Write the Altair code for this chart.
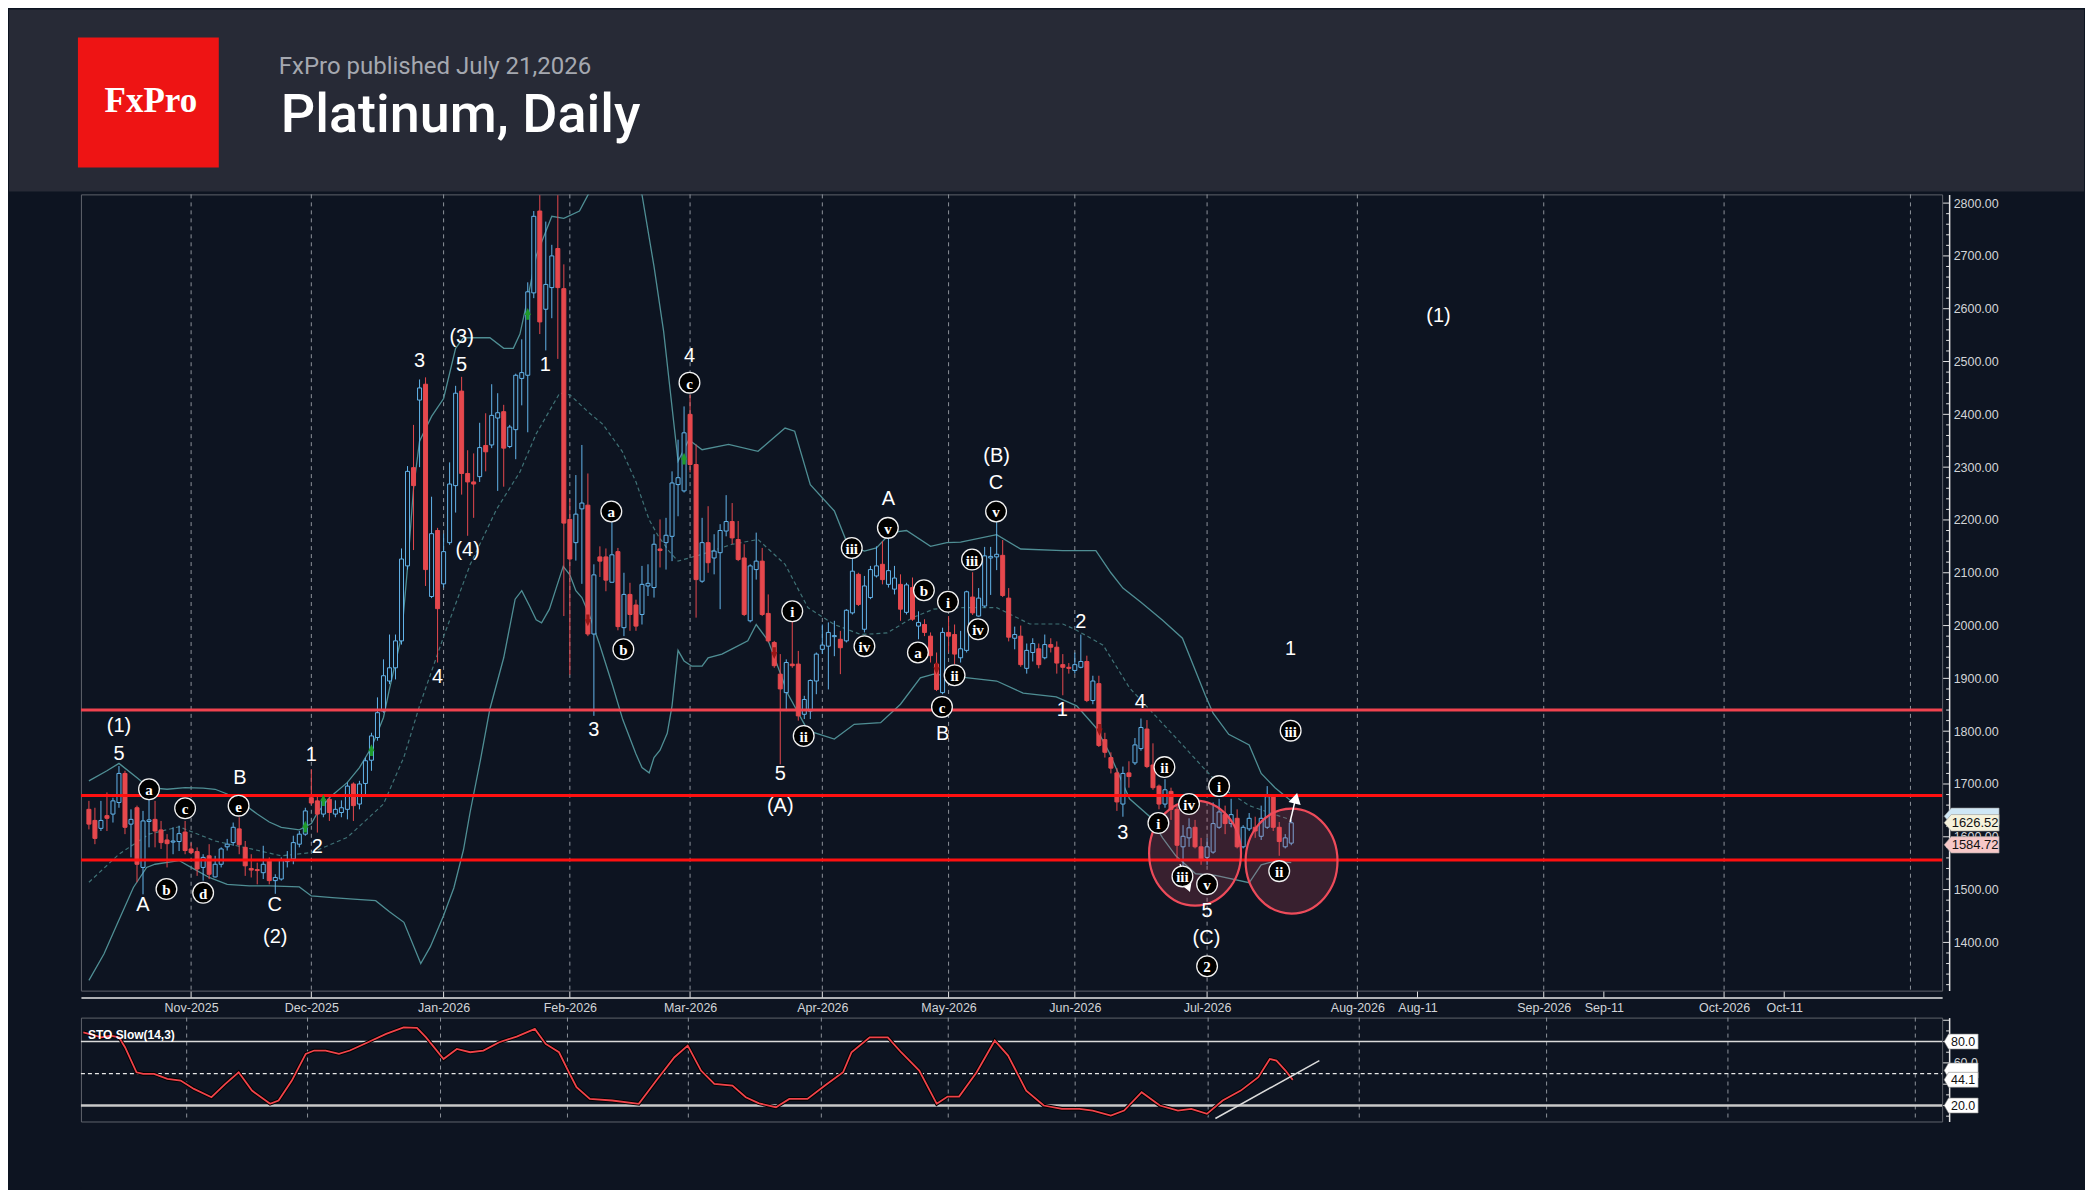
import altair as alt
import pandas as pd

BG = "#0d1421"
HEADER = "#272a36"
BLUE = "#62b4ea"
RED = "#e6484d"
BAND = "#4f8e94"
MID = "#3f7276"
AXC = "#e4e4e4"
LABC = "#d2d4d8"

W, H = 1863, 797      # price panel
SH = 104              # stochastic panel

# daily candles, k = trading-day index (k=0 -> 9 Oct 2025, k=200 -> 21 Jul 2026)
opens = [
    1652, 1631, 1616, 1640, 1643, 1665, 1720, 1624, 1655, 1542,
    1629, 1633, 1613, 1594, 1590, 1591, 1609, 1577, 1572, 1542,
    1564, 1524, 1548, 1581, 1589, 1615, 1580, 1540, 1538, 1532,
    1556, 1517, 1520, 1553, 1558, 1586, 1605, 1674, 1668, 1643,
    1671, 1643, 1646, 1652, 1700, 1662, 1701, 1745, 1788, 1838,
    1895, 1920, 1971, 2113, 2299, 2427, 2457, 2055, 2180, 2079,
    2157, 2265, 2444, 2288, 2272, 2282, 2341, 2342, 2393, 2405,
    2339, 2371, 2468, 2474, 2630, 2785, 2599, 2640, 2714, 2638,
    2201, 2157, 2221, 2228, 1984, 2130, 2130, 2082, 2140, 1996,
    2059, 2039, 2021, 2075, 2072, 2145, 2157, 2169, 2267, 2255,
    2400, 2305, 2084, 2157, 2128, 2138, 2179, 2197, 2163, 2128,
    2009, 2106, 2122, 2023, 1968, 1908, 1873, 1927, 1927, 1832,
    1838, 1895, 1955, 1961, 1979, 1974, 1971, 2024, 2097, 1993,
    2053, 2094, 2116, 2078, 2069, 2078, 2025, 2072, 1999, 2002,
    1980, 1927, 1873, 1987, 1983, 1939, 1953, 2054, 2018, 2037,
    2128, 2130, 2133, 2052, 1976, 1980, 1919, 1949, 1956, 1939,
    1964, 1959, 1926, 1921, 1915, 1921, 1932, 1858, 1890, 1784,
    1750, 1721, 1662, 1721, 1740, 1767, 1804, 1736, 1696, 1662,
    1686, 1652, 1581, 1598, 1618, 1581, 1561, 1571, 1618, 1642,
    1625, 1635, 1581, 1615, 1618, 1601, 1618, 1676, 1618, 1581,
    1588,
]
highs = [
    1668, 1655, 1668, 1684, 1674, 1734, 1725, 1652, 1659, 1649,
    1684, 1668, 1630, 1605, 1618, 1621, 1630, 1589, 1580, 1567,
    1586, 1564, 1580, 1596, 1627, 1637, 1592, 1567, 1551, 1583,
    1561, 1529, 1561, 1573, 1602, 1611, 1655, 1728, 1678, 1674,
    1674, 1669, 1669, 1703, 1703, 1706, 1750, 1797, 1864, 1936,
    1983, 1983, 2146, 2302, 2380, 2466, 2470, 2244, 2185, 2174,
    2309, 2454, 2471, 2332, 2326, 2384, 2402, 2457, 2440, 2418,
    2380, 2477, 2542, 2650, 2785, 2815, 2765, 2721, 2815, 2684,
    2240, 2285, 2342, 2288, 2116, 2150, 2146, 2214, 2147, 2100,
    2081, 2049, 2113, 2116, 2173, 2201, 2204, 2292, 2352, 2415,
    2437, 2343, 2204, 2226, 2173, 2192, 2247, 2232, 2198, 2154,
    2116, 2176, 2147, 2059, 1971, 1946, 1936, 2012, 1952, 1867,
    1898, 1949, 2002, 2006, 2009, 1990, 2031, 2128, 2100, 2094,
    2113, 2150, 2160, 2179, 2113, 2097, 2081, 2091, 2027, 2012,
    1987, 1949, 1996, 2018, 2002, 1990, 2066, 2101, 2071, 2149,
    2149, 2196, 2162, 2071, 1998, 2000, 1966, 1976, 1966, 1983,
    1976, 1970, 1946, 1929, 1949, 1983, 1943, 1905, 1905, 1797,
    1760, 1730, 1733, 1743, 1787, 1824, 1821, 1777, 1699, 1709,
    1693, 1659, 1622, 1635, 1632, 1598, 1598, 1665, 1672, 1659,
    1672, 1652, 1622, 1645, 1638, 1659, 1696, 1679, 1628, 1605,
    1632,
]
lows = [
    1614, 1586, 1611, 1611, 1627, 1655, 1605, 1561, 1514, 1491,
    1580, 1580, 1577, 1542, 1567, 1573, 1567, 1567, 1526, 1517,
    1520, 1523, 1542, 1574, 1583, 1567, 1526, 1523, 1510, 1520,
    1510, 1492, 1517, 1542, 1548, 1580, 1602, 1660, 1608, 1637,
    1630, 1637, 1637, 1633, 1630, 1652, 1681, 1725, 1782, 1835,
    1889, 1898, 1964, 2106, 2143, 2300, 2075, 2052, 1930, 2072,
    2153, 2214, 2248, 2170, 2204, 2272, 2292, 2336, 2255, 2263,
    2336, 2315, 2417, 2366, 2620, 2552, 2521, 2582, 2505, 2018,
    1907, 2123, 2079, 1980, 1829, 2092, 2065, 2082, 1991, 1980,
    1990, 1990, 2002, 2056, 2053, 2110, 2106, 2122, 2207, 2252,
    2290, 2015, 2081, 2100, 2097, 2031, 2169, 2154, 2122, 2018,
    2006, 2087, 2018, 1968, 1920, 1737, 1838, 1920, 1820, 1823,
    1823, 1870, 1946, 1879, 1942, 1908, 1968, 2021, 2037, 1987,
    2050, 2091, 2078, 2072, 2059, 2009, 2021, 2009, 1974, 1980,
    1930, 1876, 1870, 1949, 1927, 1930, 1949, 2020, 2017, 2034,
    2058, 2105, 2054, 1970, 1955, 1922, 1909, 1932, 1919, 1936,
    1949, 1909, 1868, 1909, 1909, 1919, 1855, 1851, 1770, 1750,
    1720, 1649, 1638, 1693, 1736, 1763, 1730, 1689, 1652, 1655,
    1632, 1557, 1537, 1581, 1578, 1547, 1547, 1568, 1615, 1605,
    1618, 1578, 1578, 1611, 1598, 1594, 1615, 1611, 1564, 1578,
    1584,
]
closes = [
    1624, 1597, 1631, 1635, 1668, 1720, 1618, 1633, 1548, 1630,
    1632, 1611, 1589, 1587, 1592, 1606, 1574, 1570, 1539, 1561,
    1529, 1548, 1577, 1586, 1618, 1585, 1545, 1537, 1536, 1548,
    1517, 1523, 1555, 1556, 1589, 1605, 1649, 1664, 1643, 1671,
    1646, 1652, 1655, 1696, 1659, 1700, 1744, 1791, 1835, 1905,
    1920, 1971, 2126, 2292, 2265, 2450, 2106, 2174, 2032, 2140,
    2268, 2440, 2288, 2272, 2268, 2337, 2329, 2398, 2403, 2336,
    2376, 2474, 2479, 2632, 2775, 2575, 2646, 2700, 2640, 2194,
    2126, 2211, 2232, 1984, 2096, 2122, 2086, 2134, 1998, 2059,
    2021, 1999, 2078, 2080, 2154, 2142, 2171, 2270, 2280, 2365,
    2305, 2087, 2157, 2119, 2141, 2180, 2197, 2166, 2125, 2021,
    2113, 2122, 2021, 1971, 1924, 1880, 1930, 1924, 1829, 1860,
    1896, 1946, 1963, 1987, 1981, 1958, 2029, 2103, 2040, 2075,
    2106, 2113, 2087, 2104, 2090, 2031, 2077, 2012, 2006, 1987,
    1943, 1879, 1987, 1980, 1946, 1956, 2064, 2024, 2052, 2132,
    2131, 2135, 2057, 1978, 1983, 1926, 1953, 1966, 1926, 1964,
    1959, 1929, 1921, 1919, 1926, 1932, 1858, 1895, 1773, 1760,
    1730, 1666, 1720, 1714, 1774, 1807, 1733, 1693, 1662, 1689,
    1652, 1584, 1601, 1617, 1581, 1557, 1581, 1625, 1647, 1625,
    1642, 1581, 1618, 1635, 1611, 1635, 1676, 1618, 1591, 1598,
    1626.52,
]

# Bollinger bands
upper_k = [0, 3, 5, 8, 10, 13, 16, 19, 21, 23, 26, 28, 30, 32, 35, 37, 38, 40, 43, 45,
           47, 49, 50, 51, 52, 53, 54, 55, 57, 59, 61, 62.3, 64.5, 66.7, 69, 70.6, 71.7, 73, 74.4, 77,
           79, 81.6, 83, 86, 89, 92, 94, 95.6, 98, 99.8, 102, 106.4, 111.3, 115.8, 117.4, 120, 124, 126.2, 129, 131,
           133.4, 136, 140, 142.7, 145, 151, 155, 162, 167.5, 170, 172, 175, 178.6, 181.9, 185.7, 187, 189.6, 193, 195, 197.3,
           200]
upper_v = [1706, 1725, 1739, 1712, 1693, 1690, 1693, 1692, 1690, 1681, 1660, 1643, 1628, 1618, 1613, 1625, 1645, 1674, 1703, 1731,
           1769, 1826, 1880, 1930, 1980, 2110, 2260, 2349, 2396, 2430, 2525, 2545, 2545, 2545, 2525, 2525, 2552, 2620, 2700, 2775,
           2771, 2785, 2815, 2870, 2880, 2816, 2680, 2557, 2311, 2352, 2333, 2343, 2330, 2374, 2368, 2267, 2217, 2154, 2141, 2147,
           2176, 2180, 2150, 2157, 2158, 2172, 2145, 2142, 2142, 2100, 2071, 2044, 2010, 1976, 1868, 1834, 1794, 1774, 1720, 1693,
           1668]
lower_k = [0, 2.5, 4.7, 7.4, 9.6, 11, 15, 17, 20, 23, 26.7, 30, 35, 37, 40.5, 44, 47.7, 50, 52.4, 55.2,
           56.8, 59, 60.7, 62.3, 63.4, 65.1, 66.7, 69, 70.9, 72, 73.3, 74.4, 75.3, 76.6, 77.7, 78.9, 80, 81, 82, 83.3,
           84.9, 87.1, 88.8, 91, 92, 93.2, 94, 95, 96.2, 97, 98, 99, 100.3, 102, 103, 105.3, 107, 109.6, 111, 113,
           116.3, 119.6, 124, 127.3, 131.7, 135, 138.3, 140.5, 145.5, 151, 155.4, 160.9, 164.3, 167.5, 169.7, 173.1, 176.4, 178.6, 180.8, 184.1,
           187.4, 193, 195, 197.3, 200]
lower_v = [1328, 1378, 1435, 1504, 1542, 1548, 1555, 1542, 1523, 1510, 1507, 1507, 1505, 1488, 1485, 1482, 1479, 1458, 1438, 1360,
           1392, 1451, 1503, 1575, 1646, 1744, 1842, 1939, 2050, 2066, 2037, 2011, 2005, 2031, 2070, 2112, 2096, 2066, 2053, 2018,
           1966, 1887, 1822, 1757, 1731, 1721, 1750, 1764, 1796, 1848, 1953, 1933, 1923, 1923, 1939, 1946, 1956, 1971, 2002, 1971,
           1870, 1801, 1785, 1813, 1816, 1851, 1901, 1908, 1902, 1895, 1872, 1865, 1848, 1807, 1760, 1672, 1639, 1598, 1564, 1530,
           1527, 1513, 1547, 1554, 1551]
mid_k = [0, 5, 10, 15, 21, 27, 32, 37, 43, 49, 52.4, 55, 59, 63.4, 67.8, 71.7, 74.4, 78.3, 80, 83.2,
         85.5, 88.7, 91, 93.2, 94.8, 96.5, 98, 102, 107, 111.3, 115.8, 119.6, 124, 128.4, 132.8, 137, 140.5, 145, 151, 156.5,
         162, 164, 168.7, 173.1, 177.5, 181.9, 185.2, 188.5, 193, 197.3, 200]
mid_v = [1514, 1567, 1605, 1619, 1592, 1577, 1564, 1570, 1599, 1662, 1751, 1848, 1979, 2115, 2220, 2291, 2363, 2440, 2437, 2403,
         2381, 2330, 2272, 2200, 2168, 2141, 2122, 2135, 2154, 2163, 2116, 2034, 2002, 1983, 1986, 2015, 2031, 2034, 2034, 2003,
         2003, 1993, 1963, 1882, 1828, 1774, 1733, 1693, 1659, 1642, 1632]

# STO Slow(14,3)
sto_k = [-0.1, 2.9, 4.4, 5.8, 6.8, 8.7, 9.8, 11.6, 13.8, 16, 18.2, 21.1, 23.4, 25.6, 27.8, 30.8, 32.2, 34.4, 36.7, 38.1,
         40, 42.2, 44, 47, 50, 52.9, 55.1, 56.6, 59.5, 61.7, 63.9, 66.1, 68.7, 71.6, 74.6, 76.4, 78.6, 80.1, 81.5, 83.7,
         87.4, 91.8, 94.7, 97.7, 99.9, 102.1, 104.3, 107.3, 109.5, 111.7, 114.5, 116.7, 119.7, 122.6, 125.6, 127, 130, 133, 135.2, 138.2,
         141.1, 142.9, 144.8, 147.7, 150.7, 152.9, 155.9, 158.8, 161.8, 164.7, 166.9, 169.9, 172.1, 175, 178, 181, 183.2, 185.8, 188.4, 191.4,
         194.3, 196.2, 197.3, 198.8, 200]
sto_v = [88.7, 84, 85.6, 84, 74.7, 51.2, 49.7, 49.7, 45, 43.4, 35.6, 27.8, 40.3, 51.2, 34, 21.6, 24.7, 43.4, 68.4, 71.6,
         71.6, 68.4, 71.6, 79.4, 87.2, 93.4, 92.8, 84, 63.7, 73.1, 70, 71.6, 79.4, 84.7, 91.9, 77.8, 70, 52.8, 37.2, 26.2,
         24.7, 21.6, 43.4, 65.3, 76.2, 52.8, 40.3, 38.7, 27.8, 22, 18.4, 26.2, 26.2, 38.7, 51.2, 70, 84, 84, 70, 52.8,
         21.6, 28.4, 28.4, 51.2, 80.9, 66.9, 34, 20, 16.9, 16.9, 15.3, 10.6, 15.3, 32.5, 20, 15.3, 16.9, 12.2, 24.7, 34,
         46.6, 63.7, 62.2, 52.8, 44.1]
trend_k = [187.2, 204.4]
trend_v = [7.8, 62.2]

# axis ticks / labels
x_tick_k = [17, 37, 59, 80, 100, 122, 143, 164, 186, 211, 221, 242, 252, 272, 282]
x_tick_lab = ["Nov-2025", "Dec-2025", "Jan-2026", "Feb-2026", "Mar-2026", "Apr-2026", "May-2026",
              "Jun-2026", "Jul-2026", "Aug-2026", "Aug-11", "Sep-2026", "Sep-11", "Oct-2026", "Oct-11"]
grid_k = [17, 37, 59, 80, 100, 122, 143, 164, 186, 211, 242, 272, 303]
y_major = list(range(1400, 2801, 100))
y_minor = [v for v in range(1320, 2801, 20) if v % 100]

# horizontal levels
level_hi = [1840]
level_lo = [1678, 1556]

# wave labels
plain_t = ["(1)", "5", "A", "B", "C", "(2)", "1", "2", "3", "4", "(3)", "5", "(4)", "1", "3", "4", "5", "(A)",
           "A", "B", "(B)", "C", "1", "2", "3", "4", "5", "(C)", "1", "(1)"]
plain_k = [5.0, 5.0, 9.0, 25.1, 30.9, 31.0, 37.0, 38.0, 55.0, 58.0, 62.0, 62.0, 63.0, 75.9, 84.0, 99.9, 115.0, 115.0,
           133.0, 142.0, 151.0, 150.9, 161.9, 165.0, 172.0, 174.9, 186.0, 185.9, 199.9, 224.5]
plain_p = [1810, 1756, 1470, 1712, 1470, 1410, 1755, 1581, 2501, 1903, 2546, 2493, 2143, 2493, 1802, 2510, 1719, 1659,
           2239, 1794, 2321, 2270, 1841, 2007, 1608, 1855, 1459, 1409, 1956, 2586]
circ_t = ["a", "b", "c", "d", "e", "a", "b", "c", "i", "ii", "iii", "iv", "v", "a", "b", "c", "i", "ii", "iii", "iv",
          "v", "i", "ii", "iii", "iv", "v", "2", "i", "ii", "iii"]
circ_k = [10.0, 12.9, 16.0, 19.0, 24.9, 86.9, 88.9, 99.9, 117.0, 118.9, 126.9, 129.0, 132.9, 137.9, 138.9, 141.9, 142.9, 144.0, 146.9, 147.9,
          150.9, 177.9, 178.9, 181.9, 183.0, 186.0, 186.0, 188.0, 198.0, 199.9]
circ_p = [1690, 1501, 1654, 1494, 1659, 2216, 1955, 2460, 2027, 1791, 2147, 1961, 2185, 1949, 2067, 1846, 2045, 1906, 2125, 1993,
          2216, 1626, 1732, 1525, 1662, 1510, 1355, 1696, 1535, 1801]

up_arrow_k = [36.0, 39.0, 47.0, 73.0, 99.0]
up_arrow_p = [1618, 1668, 1763, 2589, 2315]
dn_arrow_k = [83.0, 114.0, 141.0, 168.1]
dn_arrow_p = [2011, 1949, 1920, 1804]

zone_k = [184.0, 200.05]
zone_p = [1569, 1554]

one = pd.DataFrame({"z": [0]})
candles = pd.DataFrame({"k": range(len(opens)), "open": opens, "high": highs, "low": lows, "close": closes})
candles["dir"] = ["up" if c >= o else "down" for o, c in zip(opens, closes)]

xs = alt.Scale(domain=[-0.496, 307.44], nice=False, zero=False)
ys = alt.Scale(domain=[1308.7, 2816.5], nice=False, zero=False)
ss = alt.Scale(domain=[5.0, 102.5], nice=False, zero=False)

x_expr = " : ".join(f"datum.value == {k} ? '{t}'" for k, t in zip(x_tick_k, x_tick_lab)) + " : ''"
x_axis = alt.Axis(values=x_tick_k, labelExpr=x_expr, orient="bottom", offset=7, ticks=False, grid=False,
                  domainColor=AXC, domainWidth=1.5, labelColor=LABC, labelFont="Liberation Sans",
                  labelFontSize=12.5, labelPadding=4, labelFlush=False, labelOverlap=False, title=None)
y_axis = alt.Axis(values=y_major, format=".2f", orient="right", offset=7, ticks=False, grid=False,
                  domainColor=AXC, domainWidth=1.5, labelColor=LABC, labelFont="Liberation Sans",
                  labelFontSize=12.5, labelPadding=4, title=None)


def X(f="k"):
    return alt.X(f"{f}:Q", scale=xs, axis=x_axis)


def Y(f):
    return alt.Y(f"{f}:Q", scale=ys, axis=y_axis)


def tag_shape(half_h):
    return f"M -1 0 L -0.74 {-half_h} L 1 {-half_h} L 1 {half_h} L -0.74 {half_h} Z"


ELLIPSE = "M 0 -1.05 A 0.92 1.05 0 1 1 0 1.05 A 0.92 1.05 0 1 1 0 -1.05 Z"

# ---- header ----
header = alt.Chart(one).mark_rect(color=HEADER).encode(
    x=alt.value(-72), x2=alt.value(2005), y=alt.value(-185), y2=alt.value(-3))
logo = alt.Chart(one).mark_rect(color="#ee1414").encode(
    x=alt.value(-3), x2=alt.value(138), y=alt.value(-157), y2=alt.value(-27))
logo_txt = alt.Chart(one).mark_text(text="FxPro", font="Liberation Serif", fontSize=35, fontWeight="bold",
                                    color="white", align="center", baseline="alphabetic").encode(
    x=alt.value(70), y=alt.value(-82))
pub_txt = alt.Chart(one).mark_text(text="FxPro published July 21,2026", font="Roboto", fontSize=24,
                                   color="#a5a8b0", align="left", baseline="alphabetic").encode(
    x=alt.value(198), y=alt.value(-121))
title_txt = alt.Chart(one).mark_text(text="Platinum, Daily", font="Roboto", fontSize=54, fontWeight=500,
                                     color="white", align="left", baseline="alphabetic").encode(
    x=alt.value(200), y=alt.value(-62))

# ---- price panel ----
grid = alt.Chart(pd.DataFrame({"k": grid_k})).mark_rule(color="#8e939b", strokeDash=[4, 4], strokeWidth=1).encode(
    x=X(), y=alt.value(0), y2=alt.value(H))

bb_up = alt.Chart(pd.DataFrame({"k": upper_k, "v": upper_v})).mark_line(color=BAND, strokeWidth=1.3, clip=True).encode(
    x=X(), y=Y("v"))
bb_lo = alt.Chart(pd.DataFrame({"k": lower_k, "v": lower_v})).mark_line(color=BAND, strokeWidth=1.3, clip=True).encode(
    x=X(), y=Y("v"))
bb_mid = alt.Chart(pd.DataFrame({"k": mid_k, "v": mid_v})).mark_line(color=MID, strokeWidth=1.2, strokeDash=[4, 3],
                                                                      clip=True).encode(x=X(), y=Y("v"))

wicks = alt.Chart(candles).mark_rule(strokeWidth=1).encode(
    x=X(), y=Y("low"), y2="high:Q",
    color=alt.Color("dir:N", scale=alt.Scale(domain=["up", "down"], range=[BLUE, RED]), legend=None))
bodies = alt.Chart(candles).mark_bar(size=4, strokeWidth=1).encode(
    x=X(), y=Y("open"), y2="close:Q",
    fill=alt.Fill("dir:N", scale=alt.Scale(domain=["up", "down"], range=[BG, RED]), legend=None),
    stroke=alt.Stroke("dir:N", scale=alt.Scale(domain=["up", "down"], range=[BLUE, RED]), legend=None))

lvl_hi = alt.Chart(pd.DataFrame({"p": level_hi})).mark_rule(color="#f0434f", strokeWidth=3).encode(
    y=Y("p"), x=alt.value(0), x2=alt.value(W))
lvl_lo = alt.Chart(pd.DataFrame({"p": level_lo})).mark_rule(color="#ff1010", strokeWidth=3).encode(
    y=Y("p"), x=alt.value(0), x2=alt.value(W))

zones = alt.Chart(pd.DataFrame({"k": zone_k, "p": zone_p})).mark_point(
    shape=ELLIPSE, size=10000, filled=True, fill="#e8506a", fillOpacity=0.2, stroke="#ee4b5a",
    strokeWidth=2.2, strokeOpacity=1, opacity=1).encode(x=X(), y=Y("p"))

up_arr = alt.Chart(pd.DataFrame({"k": up_arrow_k, "p": up_arrow_p})).mark_point(
    shape="arrow", size=70, filled=True, fill="#1f9a2c", stroke="#1f9a2c", opacity=1).encode(x=X(), y=Y("p"))
dn_arr = alt.Chart(pd.DataFrame({"k": dn_arrow_k, "p": dn_arrow_p})).mark_point(
    shape="arrow", angle=180, size=70, filled=True, fill="#9a1616", stroke="#9a1616", opacity=1).encode(
    x=X(), y=Y("p"))

arrow_lines = alt.Chart(pd.DataFrame({"id": [0, 0, 1, 1], "k": [199.8, 200.6, 181.5, 182.7],
                                      "p": [1628, 1666, 1548, 1512]})).mark_line(
    color="white", strokeWidth=1.5).encode(x=X(), y=Y("p"), detail="id:N")
head_up = alt.Chart(pd.DataFrame({"k": [200.75], "p": [1672]})).mark_point(
    shape="triangle-up", angle=13.5, size=80, filled=True, fill="white", stroke="white", opacity=1).encode(
    x=X(), y=Y("p"))
head_dn = alt.Chart(pd.DataFrame({"k": [182.8], "p": [1506]})).mark_point(
    shape="triangle-down", angle=339, size=80, filled=True, fill="white", stroke="white", opacity=1).encode(
    x=X(), y=Y("p"))

plain = alt.Chart(pd.DataFrame({"t": plain_t, "k": plain_k, "p": plain_p})).mark_text(
    color="white", font="Liberation Sans", fontSize=20, align="center", baseline="middle").encode(
    x=X(), y=Y("p"), text="t:N")
circ_pts = alt.Chart(pd.DataFrame({"k": circ_k, "p": circ_p})).mark_point(
    shape="circle", size=430, filled=True, fill="#000000", stroke="#f2f2f2", strokeWidth=1.3,
    fillOpacity=1, strokeOpacity=1, opacity=1).encode(x=X(), y=Y("p"))
circ_txt = alt.Chart(pd.DataFrame({"t": circ_t, "k": circ_k, "p": circ_p})).mark_text(
    color="white", font="Liberation Serif", fontSize=15, fontWeight="bold", align="center", baseline="middle",
    dy=1).encode(x=X(), y=Y("p"), text="t:N")

y_maj_ticks = alt.Chart(pd.DataFrame({"p": y_major})).mark_rule(color=AXC, strokeWidth=1).encode(
    y=Y("p"), x=alt.value(W + 1), x2=alt.value(W + 7))
y_min_ticks = alt.Chart(pd.DataFrame({"p": y_minor})).mark_rule(color=AXC, strokeWidth=1).encode(
    y=Y("p"), x=alt.value(W + 4), x2=alt.value(W + 7))
x_ticks = alt.Chart(pd.DataFrame({"k": x_tick_k})).mark_rule(color=AXC, strokeWidth=1).encode(
    x=X(), y=alt.value(H + 1), y2=alt.value(H + 7))

# price tags on the right scale; the light-blue one is hidden behind the others
tag_p = [1638.8, 1626.52, 1584.72]
tag_fill = ["#cfe7f6", "#f5f2dc", "#f6c8c8"]
tag_show = [False, True, True]
tags = []
for p, f, show in zip(tag_p, tag_fill, tag_show):
    d = pd.DataFrame({"p": [p], "t": [f"{p:.2f}"]})
    tags.append(alt.Chart(d).mark_point(shape=tag_shape(0.3), size=3025, filled=True, fill=f,
                                        stroke="#9a9a9a", strokeWidth=0.6, opacity=1).encode(
        x=alt.value(W + 2 + 27.5), y=Y("p")))
    if show:
        tags.append(alt.Chart(d).mark_text(color="#111111", font="Liberation Sans", fontSize=13,
                                           align="center", baseline="middle").encode(
            x=alt.value(W + 33), y=Y("p"), text="t:N"))

main = alt.layer(
    header, logo, logo_txt, pub_txt, title_txt,
    grid, bb_up, bb_lo, bb_mid, wicks, bodies, lvl_hi, lvl_lo, zones,
    up_arr, dn_arr, arrow_lines, head_up, head_dn, plain, circ_pts, circ_txt,
    y_maj_ticks, y_min_ticks, x_ticks, *tags,
).properties(width=W, height=H)

# ---- stochastic panel ----
SX = alt.X("k:Q", scale=xs, axis=None)
s_axis = alt.Axis(values=[60], format=".1f", orient="right", offset=7, ticks=False, grid=False,
                  domainColor=AXC, domainWidth=1.5, labelColor=LABC, labelFont="Liberation Sans",
                  labelFontSize=12.5, labelPadding=4, title=None)


def SY(f):
    return alt.Y(f"{f}:Q", scale=ss, axis=s_axis)


s_grid = alt.Chart(pd.DataFrame({"k": grid_k})).mark_rule(color="#8e939b", strokeDash=[4, 4], strokeWidth=1).encode(
    x=SX, y=alt.value(0), y2=alt.value(SH))
s80 = alt.Chart(pd.DataFrame({"v": [80]})).mark_rule(color="#dadada", strokeWidth=1.5).encode(
    y=SY("v"), x=alt.value(0), x2=alt.value(W))
s50 = alt.Chart(pd.DataFrame({"v": [50]})).mark_rule(color="#e8e8e8", strokeWidth=1.3, strokeDash=[4, 3]).encode(
    y=SY("v"), x=alt.value(0), x2=alt.value(W))
s20 = alt.Chart(pd.DataFrame({"v": [20]})).mark_rule(color="#c8c8c8", strokeWidth=2.5).encode(
    y=SY("v"), x=alt.value(0), x2=alt.value(W))
sto_df = pd.DataFrame({"k": sto_k, "v": sto_v})
s_shadow = alt.Chart(sto_df).mark_line(color="#000000", strokeWidth=3.6).encode(x=SX, y=SY("v"))
s_line = alt.Chart(sto_df).mark_line(color="#f0434a", strokeWidth=1.8).encode(x=SX, y=SY("v"))
s_trend = alt.Chart(pd.DataFrame({"k": trend_k, "v": trend_v})).mark_line(color="#dcdcdc", strokeWidth=1.5).encode(
    x=SX, y=SY("v"))
s_name = alt.Chart(one).mark_text(text="STO Slow(14,3)", font="Liberation Sans", fontSize=12, fontWeight="bold",
                                  color="white", align="left", baseline="middle").encode(
    x=alt.value(7), y=alt.value(17))
s_maj = alt.Chart(pd.DataFrame({"v": [20, 40, 60, 80, 100]})).mark_rule(color=AXC).encode(
    y=SY("v"), x=alt.value(W + 1), x2=alt.value(W + 7))
s_min = alt.Chart(pd.DataFrame({"v": [10, 30, 50, 70, 90]})).mark_rule(color=AXC).encode(
    y=SY("v"), x=alt.value(W + 4), x2=alt.value(W + 7))
s_tags = []
for v, show in zip([80.0, 52.9, 44.1, 20.0], [True, False, True, True]):
    d = pd.DataFrame({"v": [v], "t": [f"{v:.1f}"]})
    s_tags.append(alt.Chart(d).mark_point(shape=tag_shape(0.44), size=1156, filled=True, fill="#ffffff",
                                          stroke="#8a8a8a", strokeWidth=0.6, opacity=1).encode(
        x=alt.value(W + 2 + 17), y=SY("v")))
    if show:
        s_tags.append(alt.Chart(d).mark_text(color="#111111", font="Liberation Sans", fontSize=12.5,
                                             align="center", baseline="middle").encode(
            x=alt.value(W + 21), y=SY("v"), text="t:N"))
s_spacer = alt.Chart(one).mark_rect(color=BG).encode(
    x=alt.value(0), x2=alt.value(1), y=alt.value(170), y2=alt.value(171))

sto = alt.layer(
    s_grid, s80, s50, s20, s_shadow, s_line, s_trend, s_name, s_maj, s_min, *s_tags, s_spacer,
).properties(width=W, height=SH)

chart = alt.vconcat(main, sto, spacing=27, bounds="flush", padding=0).configure(
    background=BG
).configure_view(stroke="#5f636b", strokeWidth=1)

chart.save("out.html", embed_options={"renderer": "svg", "actions": False})
